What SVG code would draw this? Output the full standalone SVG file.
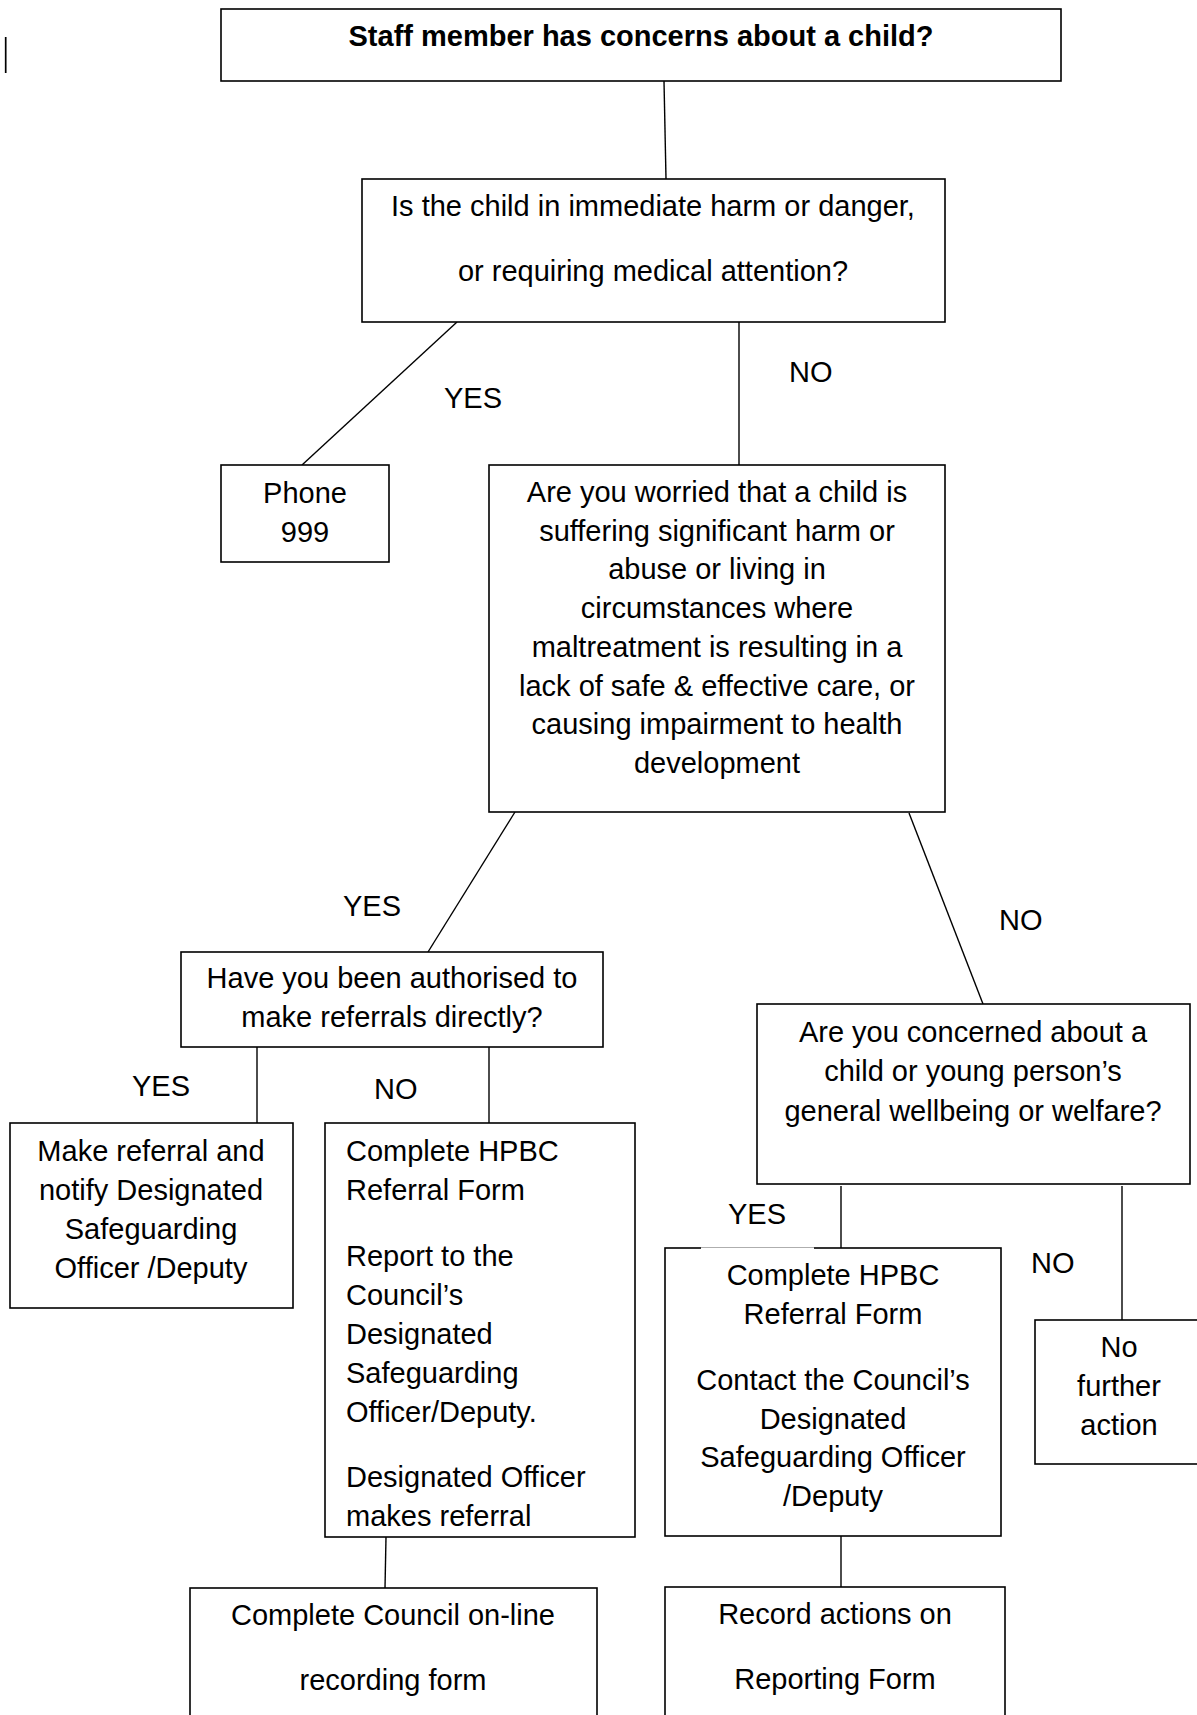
<svg xmlns="http://www.w3.org/2000/svg" width="1197" height="1715" viewBox="0 0 1197 1715">
<style>
.box{fill:#fff;stroke:#000;stroke-width:1.6}
.ln{fill:none;stroke:#000;stroke-width:1.4}
text{font-family:"Liberation Sans",Arial,sans-serif;font-size:29px;fill:#000}
.c{text-anchor:middle}
.b{font-weight:bold}
</style>
<rect width="1197" height="1715" fill="#fff"/>
<line x1="5.7" y1="37" x2="5.7" y2="73" stroke="#000" stroke-width="1.7"/>
<g id="connectors">
<line class="ln" x1="664" y1="81" x2="666" y2="179"/>
<line class="ln" x1="457" y1="322" x2="302" y2="465"/>
<line class="ln" x1="739" y1="322" x2="739" y2="465"/>
<line class="ln" x1="515" y1="812" x2="428" y2="952"/>
<line class="ln" x1="909" y1="813" x2="983" y2="1004"/>
<line class="ln" x1="257" y1="1047" x2="257" y2="1123"/>
<line class="ln" x1="489" y1="1047" x2="489" y2="1123"/>
<line class="ln" x1="841" y1="1186" x2="841" y2="1248"/>
<line class="ln" x1="1122" y1="1186" x2="1122" y2="1320"/>
<line class="ln" x1="386" y1="1537" x2="385" y2="1588"/>
<line class="ln" x1="841" y1="1536" x2="841" y2="1587"/>
</g>
<g id="labels">
<text x="444" y="408">YES</text>
<text x="789" y="382">NO</text>
<text x="343" y="916">YES</text>
<text x="999" y="930">NO</text>
<text x="132" y="1096">YES</text>
<text x="374" y="1099">NO</text>
<text x="728" y="1224">YES</text>
<text x="1031" y="1273">NO</text>
</g>
<g id="n-start">
<rect class="box" x="221" y="9" width="840" height="72" stroke-width="2"/>
<text class="c b" x="641" y="46">Staff member has concerns about a child?</text>
</g>
<g id="n-immediate">
<rect class="box" x="362" y="179" width="583" height="143"/>
<text class="c" x="653" y="216">Is the child in immediate harm or danger,</text>
<text class="c" x="653" y="281">or requiring medical attention?</text>
</g>
<g id="n-phone">
<rect class="box" x="221" y="465" width="168" height="97"/>
<text class="c" x="305" y="503">Phone</text>
<text class="c" x="305" y="542">999</text>
</g>
<g id="n-worried">
<rect class="box" x="489" y="465" width="456" height="347"/>
<text class="c" x="717" y="502">Are you worried that a child is</text>
<text class="c" x="717" y="540.7">suffering significant harm or</text>
<text class="c" x="717" y="579.4">abuse or living in</text>
<text class="c" x="717" y="618.1">circumstances where</text>
<text class="c" x="717" y="656.8">maltreatment is resulting in a</text>
<text class="c" x="717" y="695.5">lack of safe &amp; effective care, or</text>
<text class="c" x="717" y="734.2">causing impairment to health</text>
<text class="c" x="717" y="772.9">development</text>
</g>
<g id="n-authorised">
<rect class="box" x="181" y="952" width="422" height="95"/>
<text class="c" x="392" y="988">Have you been authorised to</text>
<text class="c" x="392" y="1027">make referrals directly?</text>
</g>
<g id="n-make-referral">
<rect class="box" x="10" y="1123" width="283" height="185"/>
<text class="c" x="151" y="1161">Make referral and</text>
<text class="c" x="151" y="1200">notify Designated</text>
<text class="c" x="151" y="1239">Safeguarding</text>
<text class="c" x="151" y="1278">Officer /Deputy</text>
</g>
<g id="n-hpbc-left">
<rect class="box" x="325" y="1123" width="310" height="414"/>
<text x="346" y="1161">Complete HPBC</text>
<text x="346" y="1200">Referral Form</text>
<text x="346" y="1266">Report to the</text>
<text x="346" y="1305">Council’s</text>
<text x="346" y="1344">Designated</text>
<text x="346" y="1383">Safeguarding</text>
<text x="346" y="1422">Officer/Deputy.</text>
<text x="346" y="1487">Designated Officer</text>
<text x="346" y="1526">makes referral</text>
</g>
<g id="n-concerned">
<rect class="box" x="757" y="1004" width="433" height="180"/>
<text class="c" x="973" y="1042">Are you concerned about a</text>
<text class="c" x="973" y="1081">child or young person’s</text>
<text class="c" x="973" y="1121">general wellbeing or welfare?</text>
</g>
<g id="n-hpbc-right">
<rect class="box" x="665" y="1248" width="336" height="288"/>
<line x1="701" y1="1248" x2="814" y2="1248" stroke="#fff" stroke-width="2.4"/>
<line x1="701" y1="1247.5" x2="814" y2="1247.5" stroke="#999" stroke-width="0.8"/>
<text class="c" x="833" y="1285">Complete HPBC</text>
<text class="c" x="833" y="1324">Referral Form</text>
<text class="c" x="833" y="1390">Contact the Council’s</text>
<text class="c" x="833" y="1429">Designated</text>
<text class="c" x="833" y="1467">Safeguarding Officer</text>
<text class="c" x="833" y="1506">/Deputy</text>
</g>
<g id="n-no-further">
<rect class="box" x="1035" y="1320" width="175" height="144"/>
<text class="c" x="1119" y="1357">No</text>
<text class="c" x="1119" y="1396">further</text>
<text class="c" x="1119" y="1435">action</text>
</g>
<g id="n-online-form">
<rect class="box" x="190" y="1588" width="407" height="140"/>
<text class="c" x="393" y="1625">Complete Council on-line</text>
<text class="c" x="393" y="1690">recording form</text>
</g>
<g id="n-reporting-form">
<rect class="box" x="665" y="1587" width="340" height="140"/>
<text class="c" x="835" y="1624">Record actions on</text>
<text class="c" x="835" y="1689">Reporting Form</text>
</g>
</svg>
